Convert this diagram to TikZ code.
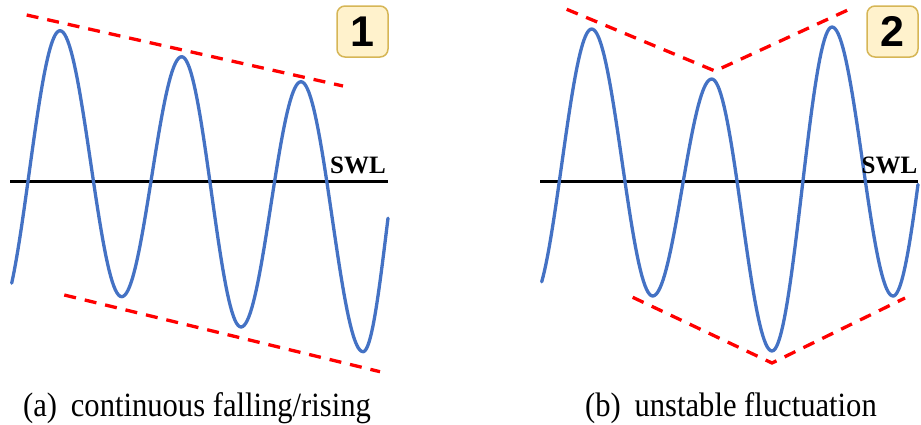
\documentclass[tikz,border=0pt]{standalone}
\usepackage{fontspec}
\setmainfont{Liberation Serif}
\newfontfamily\boxfont{Liberation Sans}
\newfontfamily\capfont{Liberation Serif}
\definecolor{wavblue}{HTML}{4472C4}
\definecolor{boxfill}{HTML}{FFF2CC}
\definecolor{boxedge}{HTML}{D6B656}
\newcommand\halfcos[6]{%
  \draw[wave] plot[domain=#5:#6,samples=40] (\x,{(#2+#4)/2+(#2-#4)/2*cos(180*(\x-#1)/(#3-#1))});}
\begin{document}
\begin{tikzpicture}[x=1pt,y=-1pt,
  wave/.style={draw=wavblue,line width=3.3pt,line cap=round,line join=round},
  env/.style={draw=red,line width=3.3pt,dash pattern=on 12pt off 9pt},
  swl/.style={draw=black,line width=3pt},
  numbox/.style={draw=boxedge,fill=boxfill,line width=1.5pt,rounded corners=8pt,
    minimum width=51pt,minimum height=51pt,inner sep=0pt,
    font=\boxfont\bfseries\fontsize{43}{43}\selectfont},
  swltext/.style={anchor=base west,inner sep=0pt,font=\rmfamily\bfseries\fontsize{25}{25}\selectfont},
  captext/.style={anchor=base west,inner sep=0pt,xscale=0.9,font=\capfont\fontsize{34}{34}\selectfont}]
\useasboundingbox (0,0) rectangle (921,424);

% ---------- panel (a)
\draw[swl] (10,181) -- (388,181);
\halfcos{-1.7}{315}{60}{30.7}{11.7}{60}
\halfcos{60}{30.7}{121.7}{296.7}{60}{121.7}
\halfcos{121.7}{296.7}{181.7}{56.7}{121.7}{181.7}
\halfcos{181.7}{56.7}{241}{327}{181.7}{241}
\halfcos{241}{327}{301}{81.7}{241}{301}
\halfcos{301}{81.7}{363}{351.7}{301}{363}
\halfcos{363}{351.7}{410.5}{105}{363}{388}
\draw[env] (26.7,15) -- (343,86);
\draw[env] (64.3,295) -- (380,371.7);
\node[swltext] (swla) at (330,173) {SWL};
\node[numbox] (n1) at (362.5,31.5) {1};
\node[captext] (capa) at (23,416.5) {(a)\hspace{0.45em}continuous falling/rising};

% ---------- panel (b)
\draw[swl] (540,181) -- (918,181);
\halfcos{531.7}{300}{591.7}{29}{541.7}{591.7}
\halfcos{591.7}{29}{652.7}{296}{591.7}{652.7}
\halfcos{652.7}{296}{711.7}{79}{652.7}{711.7}
\halfcos{711.7}{79}{772}{351}{711.7}{772}
\halfcos{772}{351}{832}{27}{772}{832}
\halfcos{832}{27}{893}{296}{832}{893}
\halfcos{893}{296}{950}{20}{893}{918}
\draw[env] (566.7,9.3) -- (715,71) -- (850,9);
\draw[env] (632.7,297.3) -- (772,363) -- (905,298);
\node[swltext] (swlb) at (861.5,173) {SWL};
\node[numbox] (n2) at (892.5,31.5) {2};
\node[captext] (capb) at (585,416.5) {(b)\hspace{0.45em}unstable fluctuation};
\end{tikzpicture}
\end{document}
